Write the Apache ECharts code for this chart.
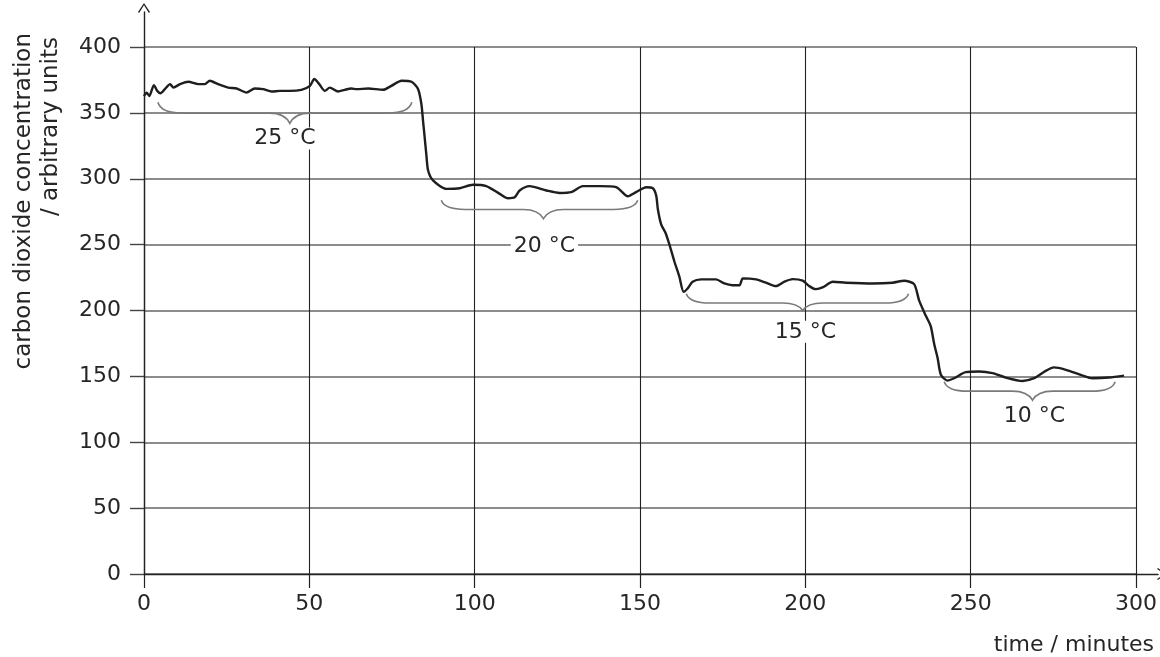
<!DOCTYPE html>
<html>
<head>
<meta charset="utf-8">
<script src="https://cdn.jsdelivr.net/npm/echarts@6/dist/echarts.min.js"></script>
<style>
html,body{margin:0;padding:0;background:#fff;}
#chart{width:1160px;height:657px;}
</style>
</head>
<body>
<div id="chart"></div>
<script>
// ---- data ----
const timeMinutes = [0,0.8,1.6,3.0,4.0,5.0,6.3,7.9,8.9,10.9,13.4,16.4,18.4,19.9,22.4,25.5,28.0,31.0,33.5,36.0,38.6,41.1,44.1,47.6,50.2,51.5,53.0,54.7,56.2,58.7,60.7,62.7,64.3,67.8,72.3,74.8,77.9,80.9,82.9,83.9,84.4,84.9,85.4,85.9,87.4,91.5,95.5,99.5,103.5,107.6,110.1,112.1,113.6,116.6,121.7,125.7,129.2,132.7,137.8,142.8,146.3,148.8,151.9,153.9,154.9,155.4,156.4,157.7,158.9,160.4,161.9,163.2,164.4,165.9,168.5,173.0,175.5,178.0,180.1,181.1,185.1,188.1,191.1,193.7,196.2,199.2,201.2,203.2,205.2,208.3,212.3,220.3,226.4,229.9,232.9,234.4,236.4,237.9,239.0,240.0,241.0,243.0,245.0,248.5,252.6,256.6,260.6,265.7,269.2,272.7,275.2,278.8,283.3,286.8,291.8,296.4];
const co2Values = [362.8,365.4,362.8,371.1,366.7,364.9,368.0,371.8,369.2,371.8,373.6,371.8,371.8,374.4,371.8,369.2,368.5,365.4,368.5,368.0,366.2,366.7,366.7,367.5,370.5,375.7,371.8,366.7,369.2,366.2,367.5,368.5,368.0,368.5,367.5,370.5,374.4,373.6,368.0,356.5,343.6,330.8,318.0,306.5,298.8,292.3,292.8,295.4,294.4,288.5,285.2,285.9,291.1,294.4,291.1,289.2,289.8,294.4,294.4,293.6,286.7,289.8,293.6,292.8,287.2,276.9,265.4,259.0,250.0,237.2,225.7,214.2,216.7,221.8,223.6,223.6,220.5,219.2,219.2,224.4,223.6,221.1,218.5,221.9,223.8,222.6,218.5,216.2,217.5,221.8,221.1,220.5,221.1,222.6,220.0,207.7,196.2,188.3,174.2,164.0,151.2,146.8,148.6,153.2,153.7,152.5,149.1,146.5,148.6,154.2,156.8,155.0,151.2,148.6,149.1,150.6];

// temperature brace annotations (time in minutes, values in arbitrary units)
const braceLabels = ['25 °C', '20 °C', '15 °C', '10 °C'];
const braceStart = [4.2, 89.9, 164.0, 242.0];
const braceEnd = [81.0, 149.3, 231.2, 293.7];
const braceTip = [44.1, 120.8, 199.2, 268.7];
const braceEndValue = [358.0, 283.6, 212.8, 146.0];
const braceLineValue = [349.8, 276.7, 205.7, 138.8];
const braceTipValue = [342.0, 269.8, 200.0, 131.9];
const braceLabelTime = [42.6, 121.1, 200.0, 269.3];
const braceLabelValue = [330.5, 248.8, 183.8, 119.6];

const xTicks = [0, 50, 100, 150, 200, 250, 300];
const yTicks = [0, 50, 100, 150, 200, 250, 300, 350, 400];

const xAxisName = 'time / minutes';
const yAxisName1 = 'carbon dioxide concentration';
const yAxisName2 = '/ arbitrary units';

// ---- chart ----
const FONT = 'DejaVu Sans';
const TXT = '#262626';
const arrowUp = 'path://M0,9 L6,0 L12,9 L10.9,9.8 L6,2.2 L1.1,9.8 Z';

const lineData = timeMinutes.map((t, i) => [t, co2Values[i]]);
const braceData = braceLabels.map((l, i) => [
  braceStart[i], braceEnd[i], braceTip[i], braceLabelTime[i],
  braceEndValue[i], braceLineValue[i], braceTipValue[i], braceLabelValue[i]
]);

const chart = echarts.init(document.getElementById('chart'), null, {renderer: 'canvas'});

const option = {
  backgroundColor: '#fff',
  animation: false,
  grid: [
    {left: 144, right: 23, top: 47, bottom: 83, containLabel: false},
    {left: 144, right: 2, top: 12, bottom: 83, containLabel: false}
  ],
  xAxis: [
    {
      type: 'value', gridIndex: 0, min: xTicks[0], max: xTicks[xTicks.length - 1], interval: 50,
      axisLine: {show: false},
      axisTick: {show: true, length: 14, lineStyle: {color: '#222', width: 1.2}},
      axisLabel: {margin: 19, fontFamily: FONT, fontSize: 22, color: TXT},
      splitLine: {show: true, lineStyle: {color: '#222', width: 1.1}},
      name: xAxisName, nameLocation: 'end', nameGap: 18,
      nameTextStyle: {fontFamily: FONT, fontSize: 22, color: TXT, align: 'right', verticalAlign: 'top', padding: [60, 0, 0, 0]}
    },
    {
      type: 'value', gridIndex: 1, min: 0, max: 1,
      axisLine: {show: true, symbol: ['none', arrowUp], symbolSize: [12, 10], symbolOffset: [0, 4], lineStyle: {color: '#222', width: 1.4}},
      axisTick: {show: false}, axisLabel: {show: false}, splitLine: {show: false}
    }
  ],
  yAxis: [
    {
      type: 'value', gridIndex: 0, min: yTicks[0], max: yTicks[yTicks.length - 1], interval: 50,
      axisLine: {show: false},
      axisTick: {show: true, length: 14, lineStyle: {color: '#444', width: 1.4}},
      axisLabel: {margin: 23, fontFamily: FONT, fontSize: 22, color: TXT},
      splitLine: {show: true, lineStyle: {color: '#666', width: 1.6}}
    },
    {
      type: 'value', gridIndex: 1, min: 0, max: 1,
      axisLine: {show: true, symbol: ['none', arrowUp], symbolSize: [12, 10], symbolOffset: [0, 4], lineStyle: {color: '#222', width: 1.4}},
      axisTick: {show: false}, axisLabel: {show: false}, splitLine: {show: false}
    }
  ],
  graphic: [
    {type: 'text', x: 24, y: 33, rotation: Math.PI / 2,
     style: {text: yAxisName1, fontFamily: FONT, fontSize: 23, fill: TXT, align: 'right', verticalAlign: 'middle'}},
    {type: 'text', x: 51, y: 37, rotation: Math.PI / 2,
     style: {text: yAxisName2, fontFamily: FONT, fontSize: 23, fill: TXT, align: 'right', verticalAlign: 'middle'}}
  ],
  series: [
    {
      type: 'custom', xAxisIndex: 0, yAxisIndex: 0, z: 3,
      data: braceData,
      encode: {x: [0, 1, 2, 3], y: [4, 5, 6, 7]},
      renderItem: function (params, api) {
        const L = api.coord([api.value(0), api.value(4)]);
        const R = api.coord([api.value(1), api.value(4)]);
        const yL = api.coord([0, api.value(5)])[1];
        const T = api.coord([api.value(2), api.value(6)]);
        const lab = api.coord([api.value(3), api.value(7)]);
        const xl = L[0], xr = R[0], xm = T[0], yE = L[1], yT = T[1];
        const d = 'M' + xl + ' ' + yE +
          ' Q' + (xl + 3) + ' ' + yL + ' ' + (xl + 24) + ' ' + yL +
          ' L' + (xm - 20) + ' ' + yL +
          ' Q' + (xm - 5) + ' ' + yL + ' ' + xm + ' ' + yT +
          ' Q' + (xm + 5) + ' ' + yL + ' ' + (xm + 20) + ' ' + yL +
          ' L' + (xr - 24) + ' ' + yL +
          ' Q' + (xr - 3) + ' ' + yL + ' ' + xr + ' ' + yE;
        return {
          type: 'group',
          children: [
            {type: 'path', shape: {pathData: d},
             style: {fill: 'none', stroke: '#7a7a7a', lineWidth: 1.6}},
            {type: 'text', x: lab[0], y: lab[1],
             style: {text: braceLabels[params.dataIndex], fontFamily: FONT, fontSize: 22, fill: TXT,
                     align: 'center', verticalAlign: 'middle', textAlign: 'center', textVerticalAlign: 'middle',
                     backgroundColor: '#fff', padding: [0, 3]}}
          ]
        };
      }
    },
    {
      type: 'line', xAxisIndex: 0, yAxisIndex: 0, z: 5,
      data: lineData, showSymbol: false, smooth: 0.25,
      lineStyle: {color: '#1e1e1e', width: 2.4}
    }
  ]
};
chart.setOption(option);
</script>
</body>
</html>
